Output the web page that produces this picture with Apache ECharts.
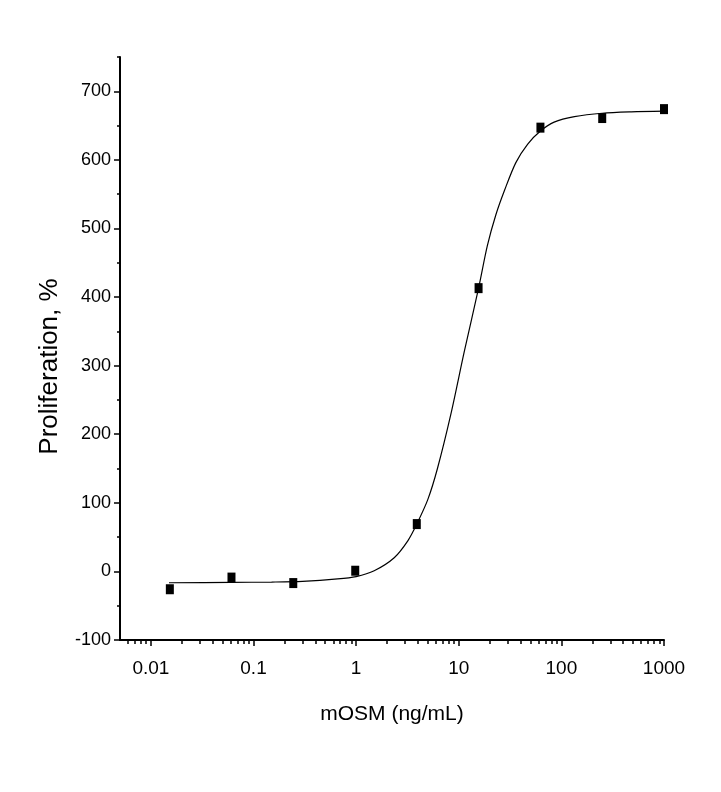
<!DOCTYPE html>
<html>
<head>
<meta charset="utf-8">
<script src="https://cdn.jsdelivr.net/npm/echarts@6/dist/echarts.min.js"></script>
<style>
  html, body { margin: 0; padding: 0; background: #fff; }
  #main { width: 721px; height: 792px; }
</style>
</head>
<body>
<div id="main"></div>
<script>
// measured points, mOSM concentration (ng/mL) vs proliferation %
let concentrations = [0.0153, 0.061, 0.244, 0.98, 3.9, 15.6, 62.5, 250, 1000];
let proliferation = [-26, -9, -17, 1, 69, 413, 647, 661, 674];

// fitted curve
let curveX = [0.015, 0.06, 0.15, 0.3, 0.66, 1, 1.5, 2.35, 3.2, 3.9, 5, 6.2, 8.4, 11.3, 15.6, 19, 23, 28, 36, 47, 62.5, 85, 134, 250, 480, 1000];
let curveY = [-16.5, -16, -15.5, -14.5, -11, -7.5, 1, 20, 45, 69, 105, 150, 230, 320, 413, 475, 520, 556, 596, 623, 642, 655, 663, 668, 670, 671];

// ticks
let xMajorTicks = [0.01, 0.1, 1, 10, 100, 1000];
let xMinorTicks = [0.006, 0.007, 0.008, 0.009,
    0.02, 0.03, 0.04, 0.05, 0.06, 0.07, 0.08, 0.09,
    0.2, 0.3, 0.4, 0.5, 0.6, 0.7, 0.8, 0.9,
    2, 3, 4, 5, 6, 7, 8, 9,
    20, 30, 40, 50, 60, 70, 80, 90,
    200, 300, 400, 500, 600, 700, 800, 900];
let yMajorTicks = [-100, 0, 100, 200, 300, 400, 500, 600, 700];
let yMinorTicks = [-50, 50, 150, 250, 350, 450, 550, 650, 750];

const FONT = 'Liberation Sans, Arial, sans-serif';

let scatterData = [];
for (let i = 0; i < concentrations.length; i++) {
    scatterData.push([concentrations[i], proliferation[i]]);
}
let curveData = [];
for (let i = 0; i < curveX.length; i++) {
    curveData.push([curveX[i], curveY[i]]);
}

let hidden = {show: false};

option = {
    animation: false,
    backgroundColor: '#fff',
    grid: {left: 120, right: 57, top: 57, bottom: 152},
    xAxis: [
        {
            type: 'log',
            min: 0.005,
            max: 1000,
            position: 'bottom',
            name: 'mOSM (ng/mL)',
            nameLocation: 'middle',
            nameGap: 64,
            nameTextStyle: {fontFamily: FONT, fontSize: 21, color: '#000'},
            axisLine: {show: true, onZero: false, lineStyle: {color: '#000', width: 2}},
            axisTick: {show: true, inside: false, length: 6, customValues: xMajorTicks, lineStyle: {color: '#000', width: 1.5}},
            axisLabel: {
                show: true, margin: 19, customValues: xMajorTicks,
                fontFamily: FONT, fontSize: 19, color: '#000',
                formatter: function (value) {
                    return String(value);
                }
            },
            splitLine: hidden,
            minorTick: hidden
        },
        {
            // minor ticks only
            type: 'log',
            min: 0.005,
            max: 1000,
            position: 'bottom',
            axisLine: {show: false, onZero: false},
            axisTick: {show: true, inside: false, length: 4, customValues: xMinorTicks, lineStyle: {color: '#000', width: 1.5}},
            axisLabel: hidden,
            splitLine: hidden
        }
    ],
    yAxis: [
        {
            type: 'value',
            min: -100,
            max: 750,
            interval: 100,
            position: 'left',
            name: 'Proliferation, %',
            nameLocation: 'middle',
            nameGap: 57,
            nameRotate: 90,
            nameTextStyle: {fontFamily: FONT, fontSize: 26, color: '#000', padding: [0, 36, 0, 0]},
            axisLine: {show: true, onZero: false, lineStyle: {color: '#000', width: 2}},
            axisTick: {show: true, inside: false, length: 6, customValues: yMajorTicks, lineStyle: {color: '#000', width: 1.5}},
            axisLabel: {show: true, margin: 9, customValues: yMajorTicks, fontFamily: FONT, fontSize: 18, color: '#000'},
            splitLine: hidden
        },
        {
            // minor ticks only
            type: 'value',
            min: -100,
            max: 750,
            interval: 100,
            position: 'left',
            axisLine: {show: false, onZero: false},
            axisTick: {show: true, inside: false, length: 3, customValues: yMinorTicks, lineStyle: {color: '#000', width: 1.5}},
            axisLabel: hidden,
            splitLine: hidden
        }
    ],
    series: [
        {
            name: 'fit',
            type: 'line',
            data: curveData,
            smooth: 0.3,
            showSymbol: false,
            symbol: 'none',
            lineStyle: {color: '#000', width: 1.2}
        },
        {
            name: 'mOSM',
            type: 'scatter',
            data: scatterData,
            symbol: 'rect',
            symbolSize: [8, 10],
            itemStyle: {color: '#000', opacity: 1}
        }
    ]
};

let myChart = echarts.init(document.getElementById('main'), null, {renderer: 'canvas'});
myChart.setOption(option);
</script>
</body>
</html>
